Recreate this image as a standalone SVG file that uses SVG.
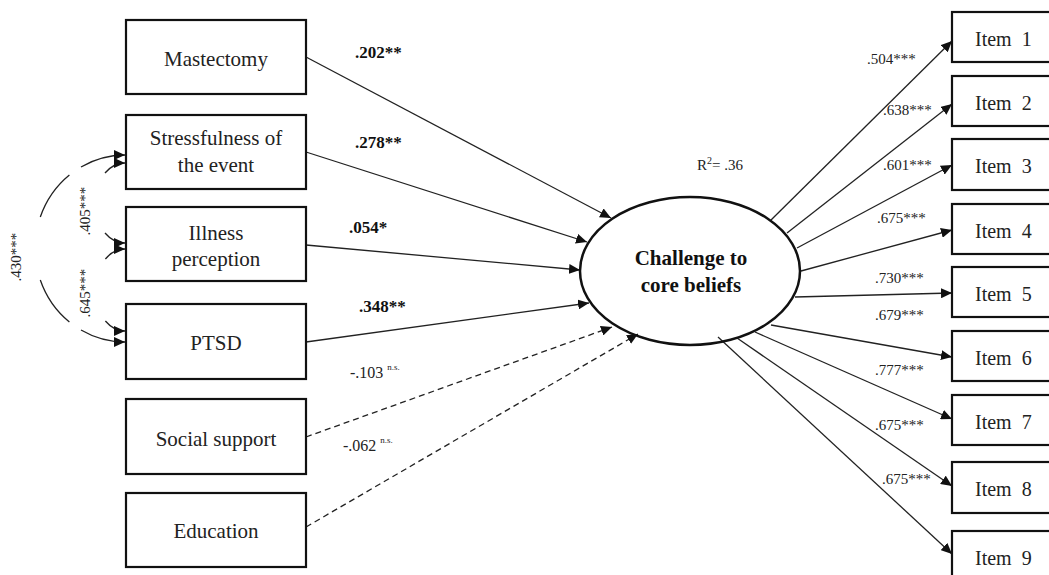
<svg xmlns="http://www.w3.org/2000/svg" width="1049" height="575" viewBox="0 0 1049 575">
  <defs>
    <marker id="arrow" markerUnits="userSpaceOnUse" markerWidth="12" markerHeight="10" refX="11" refY="5" orient="auto">
      <path d="M0,0 L11,5 L0,10 z" fill="#111"/>
    </marker>
    <style>
      .box { fill: #fff; stroke: #111; stroke-width: 2.2; }
      .lbl { font-family: "Liberation Serif", "Times New Roman", serif; font-size: 21px; fill: #222; text-anchor: middle; }
      .item { font-family: "Liberation Serif", "Times New Roman", serif; font-size: 20px; fill: #222; white-space: pre; }
      .path { fill: none; stroke: #222; stroke-width: 1.3; marker-end: url(#arrow); }
      .dash { stroke-dasharray: 6 4; }
      .coef { font-family: "Liberation Serif", "Times New Roman", serif; font-size: 17px; font-weight: bold; fill: #111; }
      .ns { font-family: "Liberation Serif", "Times New Roman", serif; font-size: 16px; fill: #222; }
      .sup { font-size: 9px; }
      .load { font-family: "Liberation Serif", "Times New Roman", serif; font-size: 15px; fill: #222; }
      .cov { font-family: "Liberation Serif", "Times New Roman", serif; font-size: 15px; fill: #222; text-anchor: middle; }
      .latent { font-family: "Liberation Serif", "Times New Roman", serif; font-size: 21px; font-weight: bold; fill: #111; text-anchor: middle; }
    </style>
  </defs>
  <rect width="1049" height="575" fill="#fff"/>

  <!-- connectors -->
  <g id="connectors">
    <!-- predictors to latent factor -->
    <line class="path" x1="306" y1="57" x2="611" y2="218"/>
    <line class="path" x1="306" y1="152" x2="587" y2="242"/>
    <line class="path" x1="306" y1="245" x2="580" y2="270"/>
    <line class="path" x1="306" y1="342" x2="589" y2="303"/>
    <line class="path dash" x1="306" y1="437" x2="612" y2="327"/>
    <line class="path dash" x1="306" y1="527" x2="638" y2="334"/>
    <!-- factor loadings -->
    <line class="path" x1="770" y1="221" x2="952" y2="41"/>
    <line class="path" x1="787" y1="233" x2="952" y2="104"/>
    <line class="path" x1="797" y1="248" x2="952" y2="165"/>
    <line class="path" x1="801" y1="271" x2="952" y2="230"/>
    <line class="path" x1="795" y1="297" x2="952" y2="293"/>
    <line class="path" x1="771" y1="325" x2="952" y2="357"/>
    <line class="path" x1="755" y1="332" x2="952" y2="419"/>
    <line class="path" x1="737" y1="338" x2="952" y2="486"/>
    <line class="path" x1="718" y1="337" x2="952" y2="554"/>
    <!-- correlations among predictors -->
    <path class="path" d="M81,167 A90,93.5 0 0 1 125,155"/>
    <path class="path" style="marker-end:none" d="M40.3,217 A90,93.5 0 0 1 69.4,175"/>
    <path class="path" style="marker-end:none" d="M40.3,280 A90,93.5 0 0 0 69.4,322"/>
    <path class="path" d="M81,330 A90,93.5 0 0 0 125,342"/>
    <path class="path" d="M105,173 A30,40 0 0 1 125,163"/>
    <path class="path" d="M105,233 A30,40 0 0 0 125,243"/>
    <path class="path" d="M105.4,259 A30,41 0 0 1 125,249"/>
    <path class="path" d="M105.4,321 A30,41 0 0 0 125,331"/>
  </g>

  <!-- correlation labels -->
  <text class="cov" transform="translate(21,257) rotate(-90)">.430***</text>
  <text class="cov" transform="translate(90,211) rotate(-90)">.405***</text>
  <text class="cov" transform="translate(90,293) rotate(-90)">.645***</text>

  <!-- path coefficients -->
  <text class="coef" x="355" y="58">.202**</text>
  <text class="coef" x="355" y="148">.278**</text>
  <text class="coef" x="349" y="233">.054*</text>
  <text class="coef" x="359" y="312">.348**</text>
  <text class="ns" x="350" y="378">-.103 <tspan class="sup" dy="-8">n.s.</tspan></text>
  <text class="ns" x="343" y="451">-.062 <tspan class="sup" dy="-8">n.s.</tspan></text>

  <!-- loadings -->
  <text class="load" x="867" y="64">.504***</text>
  <text class="load" x="883" y="115">.638***</text>
  <text class="load" x="883" y="170">.601***</text>
  <text class="load" x="877" y="223">.675***</text>
  <text class="load" x="875" y="283">.730***</text>
  <text class="load" x="875" y="320">.679***</text>
  <text class="load" x="875" y="375">.777***</text>
  <text class="load" x="875" y="430">.675***</text>
  <text class="load" x="882" y="484">.675***</text>
  <text class="load" x="697" y="170">R<tspan font-size="10" dy="-6">2</tspan><tspan dy="6">= .36</tspan></text>

  <!-- predictor nodes -->
  <g id="mastectomy"><rect class="box" x="126" y="20" width="180" height="74"/><text class="lbl" x="216" y="66">Mastectomy</text></g>
  <g id="stressfulness"><rect class="box" x="126" y="115" width="180" height="74"/><text class="lbl" x="216" y="145">Stressfulness of</text><text class="lbl" x="216" y="172">the event</text></g>
  <g id="illness"><rect class="box" x="126" y="207" width="180" height="74"/><text class="lbl" x="216" y="240">Illness</text><text class="lbl" x="216" y="266">perception</text></g>
  <g id="ptsd"><rect class="box" x="126" y="304" width="180" height="75"/><text class="lbl" x="216" y="350">PTSD</text></g>
  <g id="social"><rect class="box" x="126" y="399" width="180" height="75"/><text class="lbl" x="216" y="446">Social support</text></g>
  <g id="education"><rect class="box" x="126" y="493" width="180" height="74"/><text class="lbl" x="216" y="538">Education</text></g>

  <!-- latent factor -->
  <g id="challenge">
    <ellipse cx="690" cy="271" rx="110" ry="74" fill="none" stroke="#111" stroke-width="2.5"/>
    <text class="latent" x="691" y="265">Challenge to</text>
    <text class="latent" x="691" y="292">core beliefs</text>
  </g>

  <!-- indicator nodes -->
  <g id="item1"><rect class="box" x="952" y="12" width="110" height="50"/><text class="item" x="975" y="46">Item  1</text></g>
  <g id="item2"><rect class="box" x="952" y="76" width="110" height="50"/><text class="item" x="975" y="110">Item  2</text></g>
  <g id="item3"><rect class="box" x="952" y="139" width="110" height="51"/><text class="item" x="975" y="173">Item  3</text></g>
  <g id="item4"><rect class="box" x="952" y="204" width="110" height="50"/><text class="item" x="975" y="238">Item  4</text></g>
  <g id="item5"><rect class="box" x="952" y="267" width="110" height="50"/><text class="item" x="975" y="301">Item  5</text></g>
  <g id="item6"><rect class="box" x="952" y="331" width="110" height="50"/><text class="item" x="975" y="365">Item  6</text></g>
  <g id="item7"><rect class="box" x="952" y="395" width="110" height="50"/><text class="item" x="975" y="429">Item  7</text></g>
  <g id="item8"><rect class="box" x="952" y="462" width="110" height="51"/><text class="item" x="975" y="496">Item  8</text></g>
  <g id="item9"><rect class="box" x="952" y="531" width="110" height="60"/><text class="item" x="975" y="565">Item  9</text></g>
</svg>
